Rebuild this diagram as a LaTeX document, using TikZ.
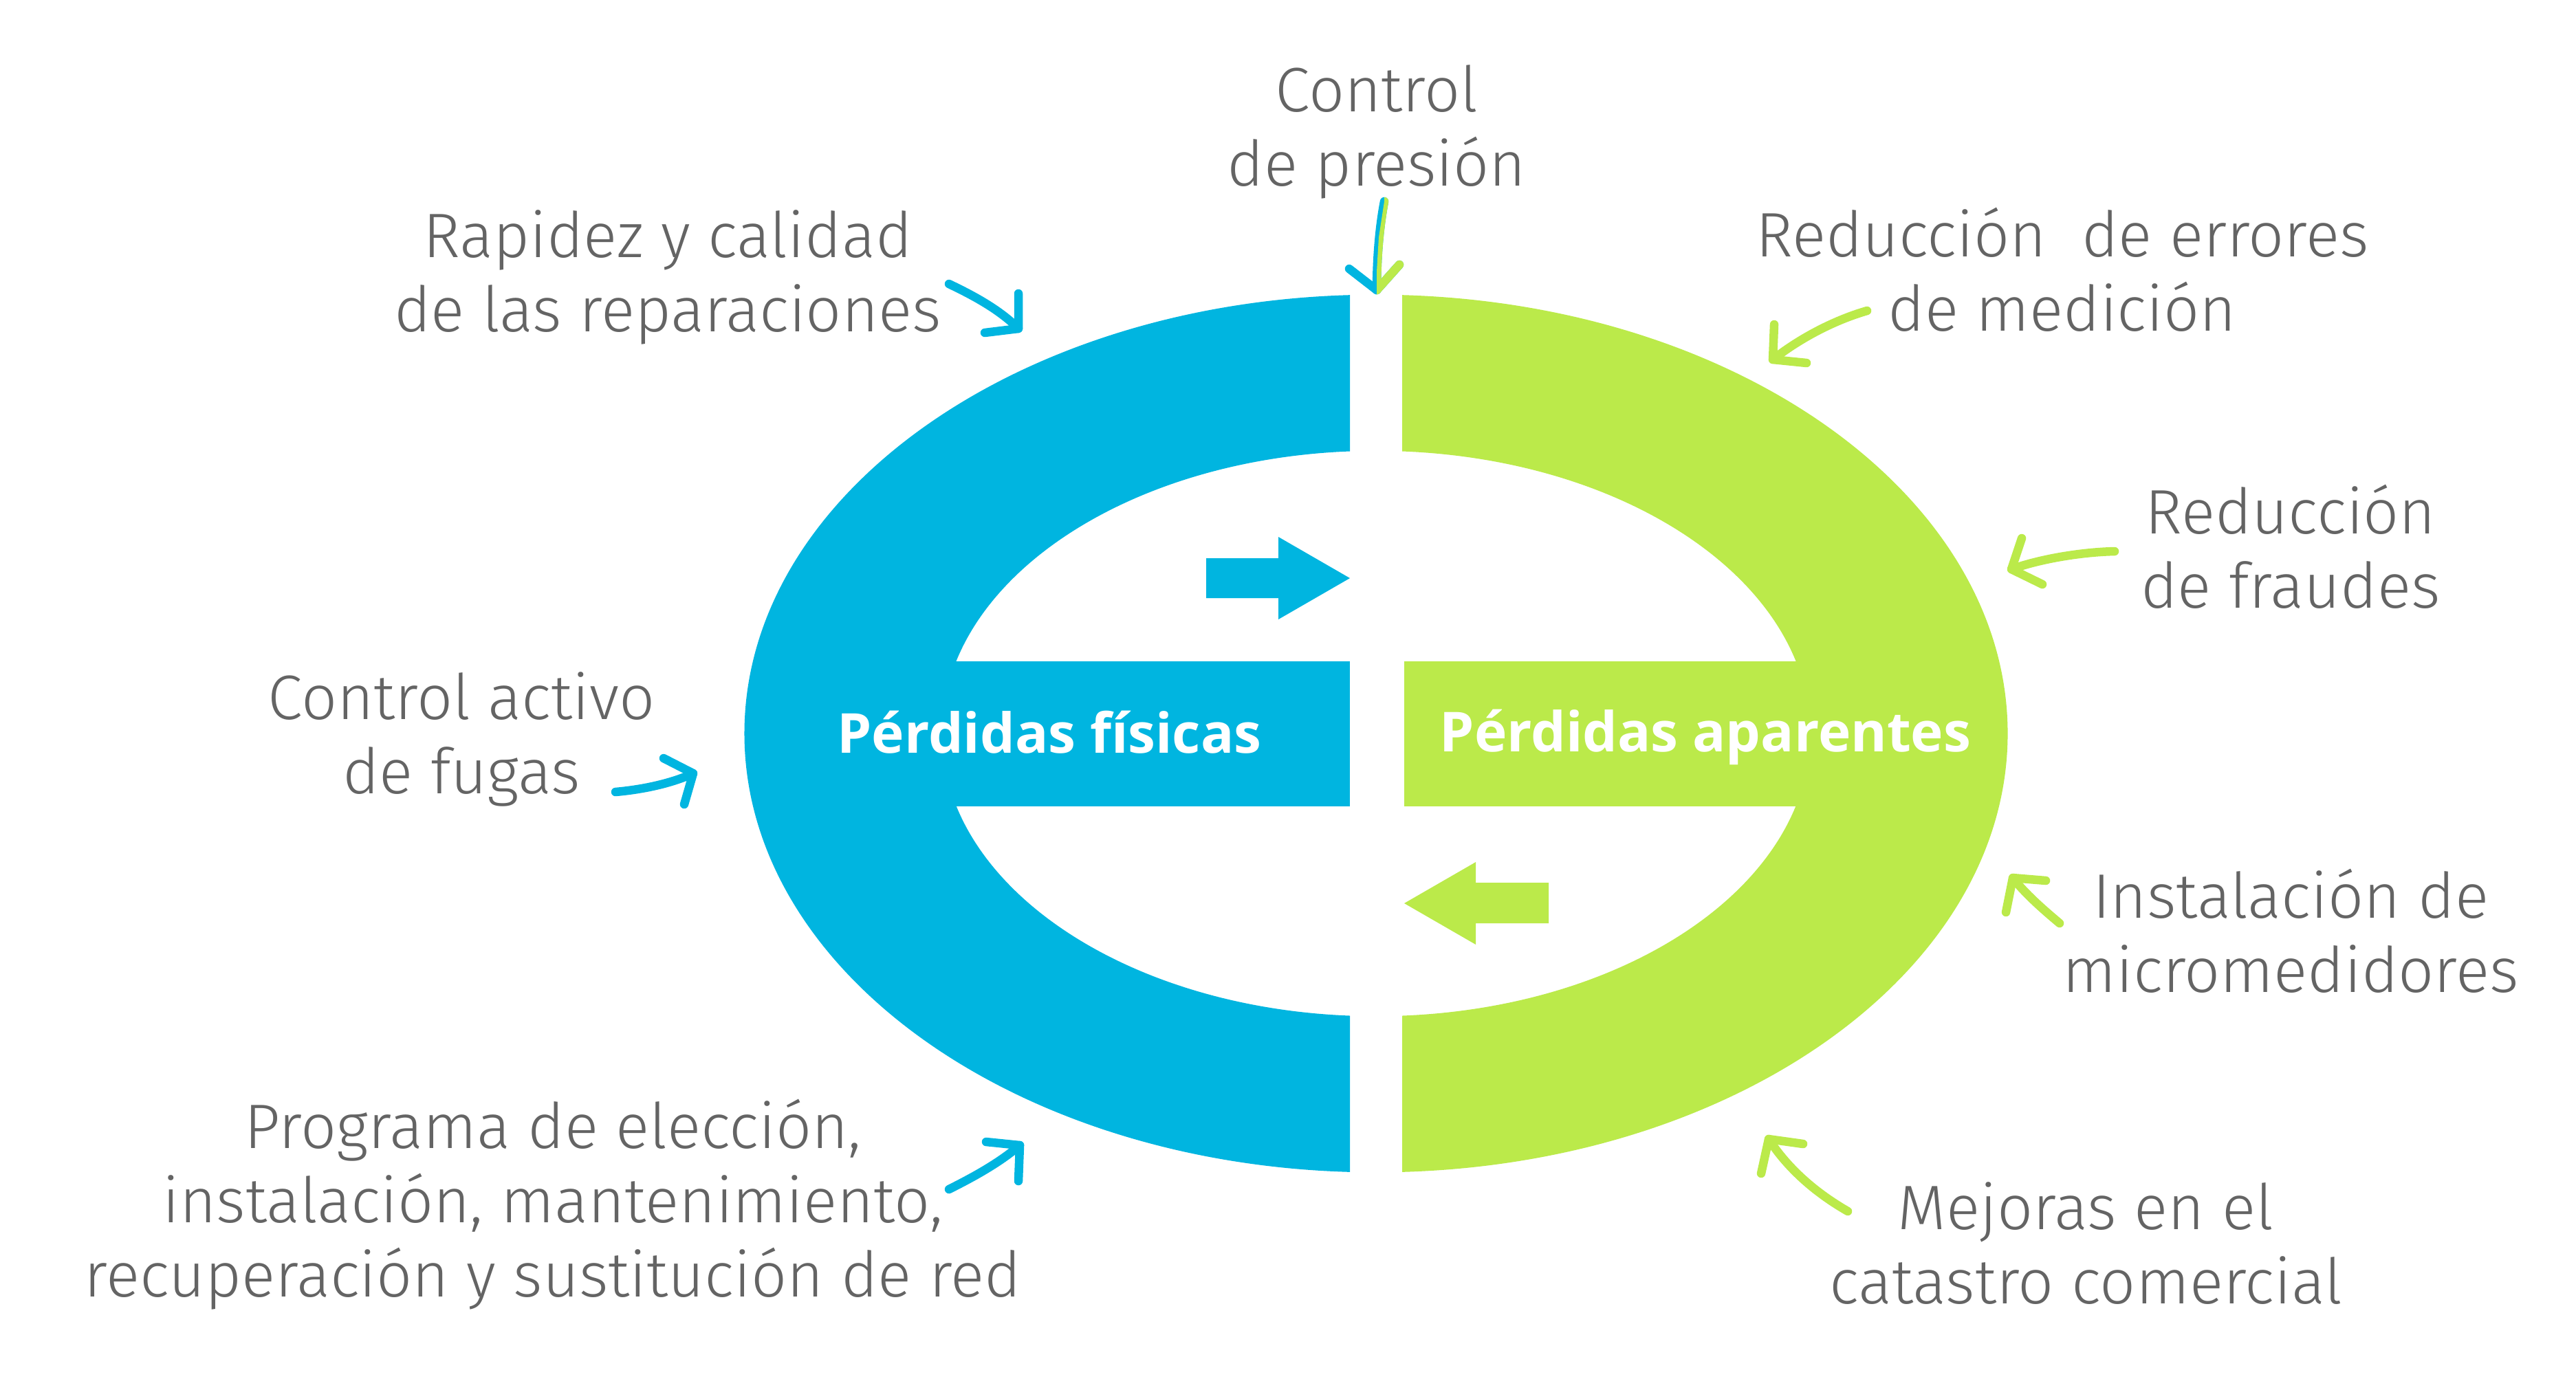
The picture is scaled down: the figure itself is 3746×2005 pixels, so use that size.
\documentclass[tikz,border=0pt]{standalone}
\usepackage{fontspec}
\setmainfont{Fira Sans}[UprightFont={* Light}]
\newfontfamily\labelfont{Open Sans}
\definecolor{blueC}{HTML}{00B5E0}
\definecolor{greenC}{HTML}{BBEA4A}
\definecolor{grayT}{HTML}{646464}
\tikzset{
  lbl/.style={text=grayT, align=center, inner sep=0pt, anchor=base, font=\fontsize{26}{30.7}\selectfont},
  ttl/.style={text=white, inner sep=0pt, anchor=base, font=\labelfont\bfseries\fontsize{22.8}{27}\selectfont},
  hand/.style={line width=0.125cm, line cap=round, line join=round},
}
\begin{document}
\begin{tikzpicture}[x=0.01cm, y=-0.01cm]
\useasboundingbox (0,0) rectangle (3746,2005);
\coordinate (c) at (2001,1067);
% blue half ring
\begin{scope}
\clip (0,0) rectangle (1963,2005);
\fill[blueC, even odd rule] (c) ellipse [x radius=9.18cm, y radius=6.38cm] (c) ellipse [x radius=6.31cm, y radius=4.11cm];
\end{scope}
\fill[blueC] (1300,962) rectangle (1963,1173);
% green half ring
\begin{scope}
\clip (2039,0) rectangle (3746,2005);
\fill[greenC, even odd rule] (c) ellipse [x radius=9.18cm, y radius=6.38cm] (c) ellipse [x radius=6.31cm, y radius=4.11cm];
\end{scope}
\fill[greenC] (2042,962) rectangle (2700,1173);
% inner flat arrows
\fill[blueC] (1754,812) -- (1859,812) -- (1859,781) -- (1963,841) -- (1859,901) -- (1859,870) -- (1754,870) -- cycle;
\fill[greenC] (2252,1284) -- (2146,1284) -- (2146,1254) -- (2042,1314) -- (2146,1374) -- (2146,1343) -- (2252,1343) -- cycle;
% titles
\node[ttl] (fis) at (1526,1095) {Pérdidas físicas};
\node[ttl] (apa) at (2480,1093) {Pérdidas aparentes};
% labels (anchor = baseline of last line)
\node[lbl] (ctrlp) at (2002,270) {Control\\de presión};
\node[lbl] (rap) at (971,482) {Rapidez y calidad\\de las reparaciones};
\node[lbl] (err) at (2999,481) {Reducción~ de errores\\de medición};
\node[lbl] (fra) at (3331,884) {Reducción\\de fraudes};
\node[lbl] (fug) at (671,1154) {Control activo\\de fugas};
\node[lbl] (ins) at (3331,1443) {Instalación de\\micromedidores};
\node[lbl] (pro) at (804,1886) {Programa de elección,\\instalación, mantenimiento,\\recuperación y sustitución de red};
\node[lbl] (mej) at (3033,1896) {Mejoras en el\\catastro comercial};
% hand arrows
\coordinate (aS) at (2013,293); \coordinate (aT) at (2002,422);
\draw[hand, blueC] (aS) .. controls (2004,340) and (2002,390) .. (aT);
\draw[hand, blueC] (1962,391) -- (aT) -- (2035,385);
\begin{scope}
\clip (2013,250) -- (2013,293) -- (2005,345) -- (2002,395) -- (2002,470) -- (2100,470) -- (2100,250) -- cycle;
\draw[hand, greenC] (aS) .. controls (2004,340) and (2002,390) .. (aT);
\draw[hand, greenC] (1962,391) -- (aT) -- (2035,385);
\end{scope}
\coordinate (bS) at (1380,413); \coordinate (bT) at (1481,478);
\draw[hand, blueC] (bS) .. controls (1420,432) and (1455,452) .. (bT);
\draw[hand, blueC] (1481,427) -- (bT) -- (1432,484);
\coordinate (cS) at (895,1152); \coordinate (cT) at (1008,1125);
\draw[hand, blueC] (cS) .. controls (940,1148) and (980,1138) .. (cT);
\draw[hand, blueC] (965,1103) -- (cT) -- (995,1170);
\coordinate (dS) at (1380,1730); \coordinate (dT) at (1483,1666);
\draw[hand, blueC] (dS) .. controls (1420,1710) and (1455,1690) .. (dT);
\draw[hand, blueC] (1434,1661) -- (dT) -- (1481,1718);
\coordinate (eS) at (2715,452); \coordinate (eT) at (2578,523);
\draw[hand, greenC] (eS) .. controls (2670,465) and (2620,490) .. (eT);
\draw[hand, greenC] (2580,472) -- (eT) -- (2627,528);
\coordinate (fS) at (3075,802); \coordinate (fT) at (2925,828);
\draw[hand, greenC] (fS) .. controls (3030,803) and (2970,812) .. (fT);
\draw[hand, greenC] (2940,783) -- (fT) -- (2970,850);
\coordinate (gS) at (2995,1343); \coordinate (gT) at (2927,1277);
\draw[hand, greenC] (gS) .. controls (2970,1322) and (2945,1300) .. (gT);
\draw[hand, greenC] (2975,1281) -- (gT) -- (2917,1327);
\coordinate (hS) at (2687,1762); \coordinate (hT) at (2572,1657);
\draw[hand, greenC] (hS) .. controls (2640,1735) and (2600,1700) .. (hT);
\draw[hand, greenC] (2622,1664) -- (hT) -- (2561,1707);
\end{tikzpicture}
\end{document}
